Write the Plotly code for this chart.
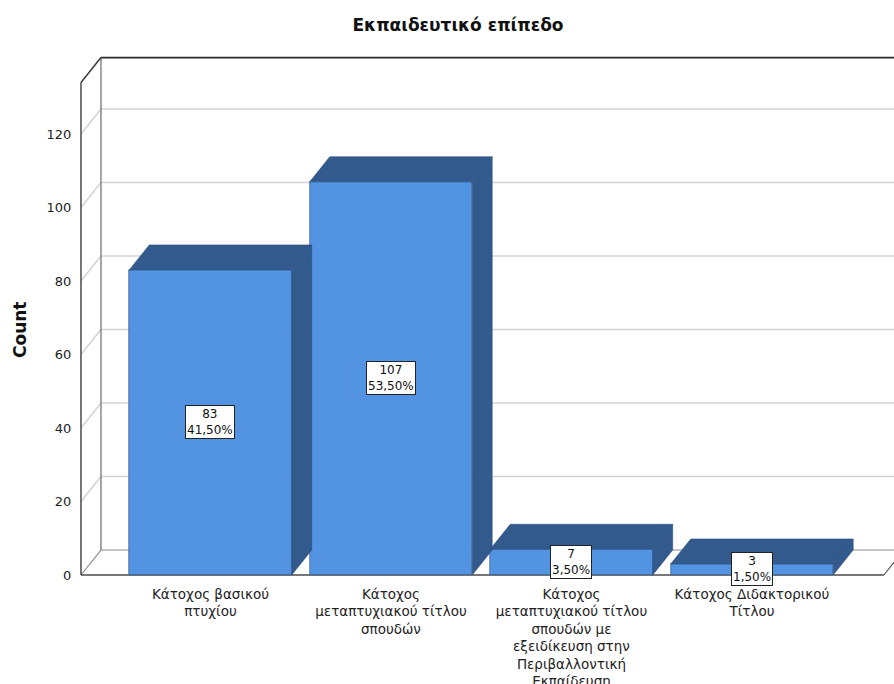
import plotly.graph_objects as go

# ---- data ----
categories = [
    "Κάτοχος βασικού<br>πτυχίου",
    "Κάτοχος<br>μεταπτυχιακού τίτλου<br>σπουδών",
    "Κάτοχος<br>μεταπτυχιακού τίτλου<br>σπουδών με<br>εξειδίκευση στην<br>Περιβαλλοντική<br>Εκπαίδευση",
    "Κάτοχος Διδακτορικού<br>Τίτλου",
]
counts = [83, 107, 7, 3]
y_ticks = [0, 20, 40, 60, 80, 100, 120]
title_text = "Εκπαιδευτικό επίπεδο"
y_title = "Count"

# ---- style / geometry (pseudo-3D projection) ----
FONT = "DejaVu Sans, Liberation Sans, Arial, sans-serif"
FRONT = "#5294E2"
DARK = "#325A8D"
EDGE = "#2E4F7E"
GRID = "#D4D4D4"
BW = 0.9          # bar width in category units
DX = 0.1108       # depth offset, x (category units)
DY = 6.8          # depth offset, y (count units)
XL = -0.7175      # front-left edge of the box
XR = 3.731        # front-right edge of the floor
YTOP = 134.0      # front top of the box

W, H = 894, 684
ML, MR, MT, MB = 78, 0, 50, 100

total = sum(counts)
xs = list(range(len(categories)))

fig = go.Figure()

shapes = []
def seg(x0, y0, x1, y1, color, width):
    shapes.append(dict(type="line", xref="x", yref="y", x0=x0, y0=y0, x1=x1, y1=y1,
                       line=dict(color=color, width=width), layer="below"))

# back wall + left wall gridlines
for v in y_ticks[1:]:
    seg(XL + DX, v + DY, XR + 2 * DX, v + DY, GRID, 1.5)
    seg(XL, v, XL + DX, v + DY, GRID, 1.5)
# floor
seg(XL + DX, DY, XR + DX, DY, "#8C8C8C", 1.2)
seg(XL, 0, XL + DX, DY, "#8C8C8C", 1.2)
seg(XR, 0, XR + DX, DY, "#505050", 1.2)
# frame
seg(XL + DX, DY, XL + DX, YTOP + DY, "#6A6A6A", 1.2)
seg(XL, 0, XL, YTOP, "#4A4A4A", 1.5)
seg(XL, YTOP, XL + DX, YTOP + DY, "#3A3A3A", 1.5)
seg(XL + DX, YTOP + DY, XR + 2 * DX, YTOP + DY, "#2A2A2A", 1.8)
seg(XL, 0, XR, 0, "#4A4A4A", 1.5)

# front faces
fig.add_trace(go.Bar(x=xs, y=counts, width=BW, marker=dict(color=FRONT, line=dict(color=EDGE, width=0.6)),
                     hoverinfo="skip", showlegend=False))

# top and side faces
for x, v in zip(xs, counts):
    l, r = x - BW / 2, x + BW / 2
    fig.add_trace(go.Scatter(
        x=[l, l + DX, r + DX, r, l], y=[v, v + DY, v + DY, v, v],
        fill="toself", fillcolor=DARK, mode="lines", line=dict(color=EDGE, width=0.6),
        hoverinfo="skip", showlegend=False))
    fig.add_trace(go.Scatter(
        x=[r, r + DX, r + DX, r, r], y=[0, DY, v + DY, v, 0],
        fill="toself", fillcolor=DARK, mode="lines", line=dict(color=EDGE, width=0.6),
        hoverinfo="skip", showlegend=False))

# value labels
annotations = []
for x, v in zip(xs, counts):
    pct = f"{100 * v / total:.2f}".replace(".", ",") + "%"
    annotations.append(dict(x=x, y=v / 2, xref="x", yref="y", text=f"{v}<br>{pct}",
                            showarrow=False, bgcolor="white", bordercolor="#222", borderwidth=1,
                            borderpad=1, font=dict(family=FONT, size=12, color="#111")))

# y-axis title (positioned in paper coords of the plot area)
pw, ph = W - ML - MR, H - MT - MB
annotations.append(dict(x=(20 - ML) / pw, y=(H - MB - 330) / ph, xref="paper", yref="paper",
                        text=f"<b>{y_title}</b>", textangle=-90, showarrow=False,
                        xanchor="center", yanchor="middle",
                        font=dict(family=FONT, size=17, color="#111")))

fig.update_layout(
    width=W, height=H,
    margin=dict(l=ML, r=MR, t=MT, b=MB),
    paper_bgcolor="white", plot_bgcolor="white",
    font=dict(family=FONT, size=13, color="#222"),
    title=dict(text=f"<b>{title_text}</b>", x=458 / W, xanchor="center",
               y=1 - 25 / H, yanchor="middle", yref="container",
               font=dict(family=FONT, size=17, color="#111")),
    xaxis=dict(range=[-0.734, 3.787], tickvals=xs, ticktext=categories, automargin=False,
               showgrid=False, zeroline=False, showline=False, ticks="",
               tickfont=dict(family=FONT, size=13.5, color="#222"), fixedrange=True),
    yaxis=dict(range=[-2.449, 142.86], tickvals=y_ticks, showgrid=False, zeroline=False,
               showline=False, ticks="outside", ticklen=3, tickcolor="rgba(0,0,0,0)",
               automargin=False,
               tickfont=dict(family=FONT, size=13, color="#222"), fixedrange=True),
    shapes=shapes,
    annotations=annotations,
    bargap=0,
)

fig.write_html("out.html")
